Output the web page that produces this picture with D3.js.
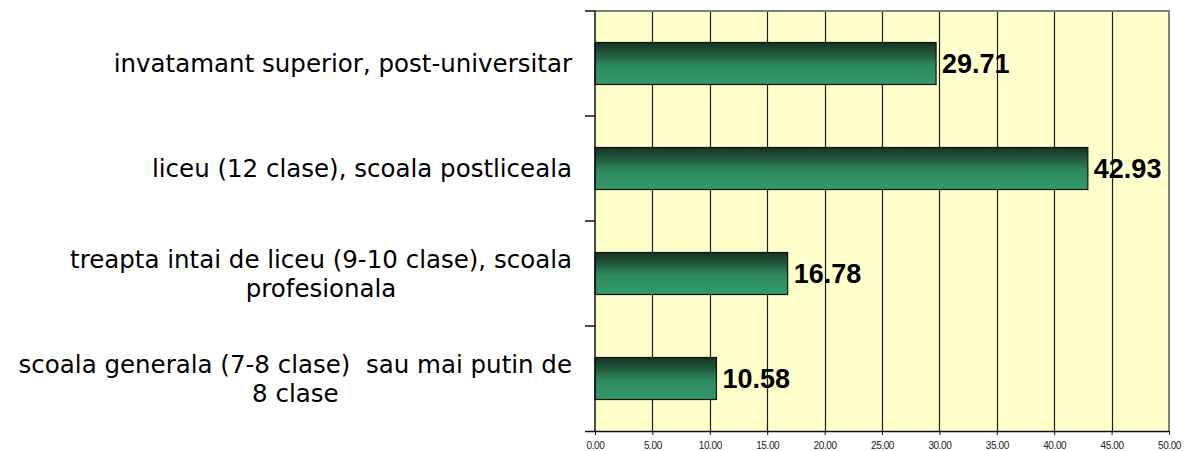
<!DOCTYPE html>
<html>
<head>
<meta charset="utf-8">
<script src="https://cdn.jsdelivr.net/npm/d3@7"></script>
<style>
  body { margin: 0; background: #fff; }
  svg { display: block; }
  .cat { white-space: pre; }
</style>
</head>
<body>
<svg id="chart" width="1184" height="451"></svg>
<script>
// data
const categories = [
    ["invatamant superior, post-universitar"],
    ["liceu (12 clase), scoala postliceala"],
    ["treapta intai de liceu (9-10 clase), scoala", "profesionala"],
    ["scoala generala (7-8 clase)  sau mai putin de", "8 clase"]
];
const values = [29.71, 42.93, 16.78, 10.58];
const xTicks = [0, 5, 10, 15, 20, 25, 30, 35, 40, 45, 50];

const svg = d3.select("#chart");

const plotL = 595, plotR = 1169, plotT = 11, plotB = 431;

const x = d3.scaleLinear().domain([0, 50]).range([plotL, plotR]);
const y = d3.scaleBand()
    .domain(d3.range(categories.length))
    .range([plotT, plotB])
    .paddingInner(0.6)
    .paddingOuter(0.3);
const yb = d3.scaleBand().domain(d3.range(categories.length)).range([plotT, plotB]);

// gradient for bars
const defs = svg.append("defs");
const grad = defs.append("linearGradient")
    .attr("id", "barGrad")
    .attr("x1", 0).attr("y1", 0).attr("x2", 0).attr("y2", 1);
grad.append("stop").attr("offset", "0%").attr("stop-color", "#163322");
grad.append("stop").attr("offset", "20%").attr("stop-color", "#1f4d35");
grad.append("stop").attr("offset", "55%").attr("stop-color", "#2d8a5f");
grad.append("stop").attr("offset", "100%").attr("stop-color", "#34996b");

// plot area
svg.append("rect")
    .attr("x", plotL).attr("y", plotT)
    .attr("width", plotR - plotL).attr("height", plotB - plotT)
    .attr("fill", "#ffffcc");

// gridlines
svg.append("g")
    .selectAll("line")
    .data(xTicks.slice(1, -1))
    .enter()
    .append("line")
    .attr("x1", d => Math.round(x(d)) + 0.5).attr("x2", d => Math.round(x(d)) + 0.5)
    .attr("y1", plotT).attr("y2", plotB)
    .attr("stroke", "#1e1e18")
    .attr("stroke-width", 1.2);

// top / right border
svg.append("path")
    .attr("d", `M${plotL},${plotT} H${plotR} V${plotB}`)
    .attr("fill", "none")
    .attr("stroke", "#808080")
    .attr("stroke-width", 2);

// bars
svg.append("g")
    .selectAll("rect")
    .data(values)
    .enter()
    .append("rect")
    .attr("x", x(0))
    .attr("y", (d, i) => y(i))
    .attr("width", d => x(d) - x(0))
    .attr("height", y.bandwidth())
    .attr("fill", "url(#barGrad)")
    .attr("stroke", "#111")
    .attr("stroke-width", 1.2);

// value labels
svg.append("g")
    .selectAll("text")
    .data(values)
    .enter()
    .append("text")
    .attr("x", d => x(d) + 6)
    .attr("y", (d, i) => y(i) + y.bandwidth() / 2)
    .attr("dy", "0.36em")
    .attr("font-family", "'Liberation Sans', Arial, sans-serif")
    .attr("font-weight", "bold")
    .attr("font-size", 27)
    .attr("fill", "#000")
    .text(d => d.toFixed(2));

// x axis
const xAxis = d3.axisBottom(x)
    .tickValues(xTicks)
    .tickFormat(d3.format(".2f"))
    .tickSize(4)
    .tickSizeOuter(0);
const gx = svg.append("g")
    .attr("transform", `translate(0,${plotB})`)
    .call(xAxis);
gx.select(".domain").attr("d", `M${plotL - 10},0.5H${plotR}`).attr("stroke", "#111").attr("stroke-width", 1.5);
gx.selectAll(".tick line").attr("stroke", "#111");
gx.selectAll(".tick text")
    .attr("font-family", "'Liberation Sans', Arial, sans-serif")
    .attr("font-size", 10)
    .attr("letter-spacing", "-0.4")
    .attr("fill", "#222")
    .attr("y", 11);

// y axis (category ticks at band boundaries)
const gy = svg.append("g");
gy.append("line")
    .attr("x1", plotL).attr("x2", plotL)
    .attr("y1", plotT).attr("y2", plotB)
    .attr("stroke", "#111").attr("stroke-width", 1.5);
gy.selectAll(".yt")
    .data(d3.range(categories.length))
    .enter()
    .append("line")
    .attr("class", "yt")
    .attr("x1", plotL - 10).attr("x2", plotL)
    .attr("y1", d => yb(d)).attr("y2", d => yb(d))
    .attr("stroke", "#111").attr("stroke-width", 1.5);

// category labels: wrapped lines centred on each other, block right-aligned
const labelRight = 572;
const lineH = 29;
categories.forEach(function (lines, i) {
    const g = svg.append("g");
    const cy = y(i) + y.bandwidth() / 2;
    const texts = lines.map(function (s, j) {
        return g.append("text")
            .attr("class", "cat")
            .attr("y", cy + (j - (lines.length - 1) / 2) * lineH)
            .attr("dy", "0.35em")
            .attr("text-anchor", "middle")
            .attr("font-family", "'DejaVu Sans', Verdana, sans-serif")
            .attr("font-size", 24.5)
            .attr("fill", "#000")
            .text(s);
    });
    const w = d3.max(texts, t => t.node().getComputedTextLength());
    texts.forEach(t => t.attr("x", labelRight - w / 2));
});
</script>
</body>
</html>
